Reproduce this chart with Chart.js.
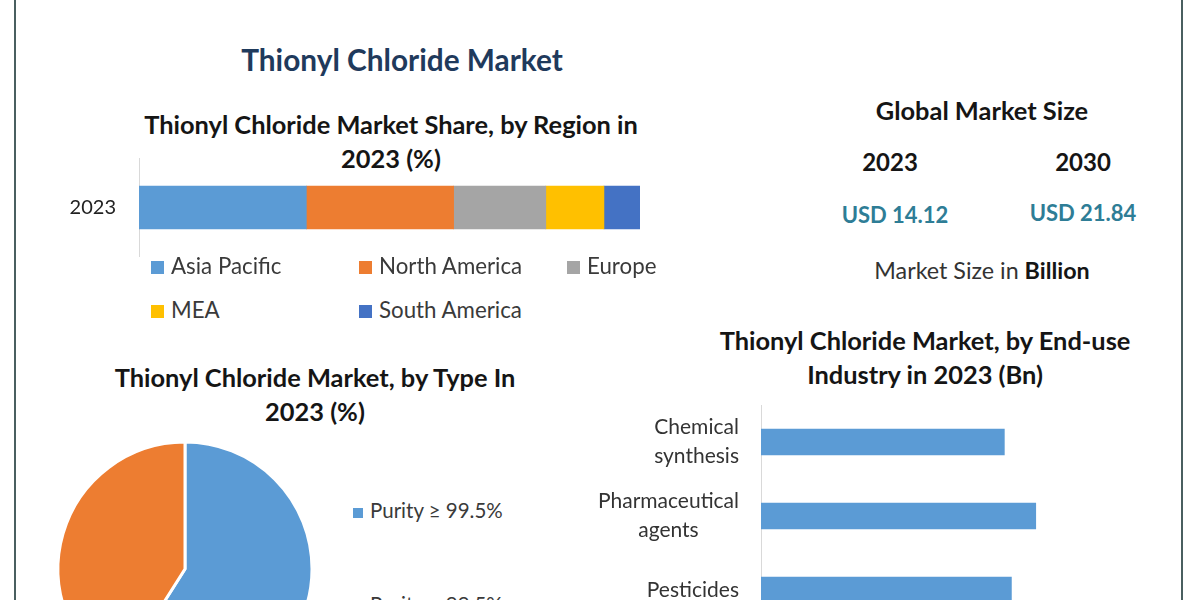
<!DOCTYPE html>
<html>
<head>
<meta charset="utf-8">
<title>Thionyl Chloride Market</title>
<script src="https://cdn.jsdelivr.net/npm/chart.js@4"></script>
<style>
  html, body { margin: 0; height: 100%; background: #fff; overflow: hidden; }
  body { position: relative; width: 1200px; height: 600px; font-family: Lato, sans-serif; color: #222; }
  .frame { position: absolute; top: -3px; left: 14px; width: 1165px; height: 700px; border: 2px solid #4a5f60; }
  .t { position: absolute; white-space: nowrap; text-align: center; transform: translateX(-50%); }
  .h { font-weight: 700; font-size: 25.4px; line-height: 34px; color: #151515; }
  .teal { font-weight: 700; font-size: 22px; color: #2e7d96; }
  .legend { position: absolute; font-size: 22.3px; color: #3a3a3a; white-space: nowrap; }
  .legend i { display: inline-block; margin-right: 7px; }
  canvas { position: absolute; }
</style>
</head>
<body>
<div class="frame"></div>

<div class="t" style="left:402px;top:42px;font-size:29.8px;line-height:36px;font-weight:700;color:#1f3a5c">Thionyl Chloride Market</div>
<div class="t h" style="left:391px;top:107px">Thionyl Chloride Market Share, by Region in<br>2023 (%)</div>
<div class="t h" style="left:315px;top:360px">Thionyl Chloride Market, by Type In<br>2023 (%)</div>
<div class="t h" style="left:925px;top:323px">Thionyl Chloride Market, by End-use<br>Industry in 2023 (Bn)</div>

<div class="t h" style="left:982px;top:93px">Global Market Size</div>
<div class="t h" style="left:890px;top:145px;font-size:24px">2023</div>
<div class="t h" style="left:1083px;top:145px;font-size:24px">2030</div>
<div class="t teal" style="left:895px;top:201px">USD 14.12</div>
<div class="t teal" style="left:1083px;top:199px">USD 21.84</div>
<div class="t" style="left:982px;top:256px;font-size:23.3px;color:#333">Market Size in <b style="color:#151515">Billion</b></div>

<canvas id="regionChart" style="left:40px;top:158px" width="600" height="99"></canvas>
<div id="regionLegend"></div>
<canvas id="typeChart" style="left:40px;top:424px" width="290" height="290"></canvas>
<div id="typeLegend"></div>
<canvas id="useChart" style="left:580px;top:405px" width="495" height="222"></canvas>

<script>
const regions = ['Asia Pacific', 'North America', 'Europe', 'MEA', 'South America'];
const regionShare = [33.4, 29.4, 18.4, 11.6, 7.2];
const regionColors = ['#5b9bd5', '#ed7d31', '#a5a5a5', '#ffc000', '#4472c4'];

const types = ['Purity ≥ 99.5%', 'Purity < 99.5%'];
const typeShare = [59, 41];
const typeColors = ['#5b9bd5', '#ed7d31'];

const uses = [['Chemical', 'synthesis'], ['Pharmaceutical', 'agents'], ['Pesticides']];
const useValues = [3.1, 3.5, 3.19];

Chart.defaults.font.family = 'Lato, sans-serif';
Chart.defaults.animation = false;
Chart.defaults.responsive = false;

// Stacked region bar
new Chart(document.getElementById('regionChart'), {
  type: 'bar',
  data: {
    labels: ['2023'],
    datasets: regions.map((r, i) => ({ label: r, data: [regionShare[i]], backgroundColor: regionColors[i], barThickness: 43 }))
  },
  options: {
    indexAxis: 'y',
    layout: { padding: { left: 99 } },
    plugins: { legend: { display: false }, tooltip: { enabled: false } },
    scales: {
      x: { stacked: true, display: false, min: 0, max: 100 },
      y: {
        stacked: true,
        afterFit(s) { s.width = 0; },
        grid: { display: false },
        border: { color: '#d9d9d9' },
        ticks: { display: false }
      }
    }
  },
  plugins: [{
    id: 'yearLabel',
    afterDraw(chart) {
      const c = chart.ctx, y = chart.scales.y;
      c.save();
      c.font = '20px Lato, sans-serif';
      c.fillStyle = '#222';
      c.textAlign = 'right';
      c.textBaseline = 'middle';
      c.fillText(chart.data.labels[0], y.left - 23, y.getPixelForTick(0));
      c.restore();
    }
  }]
});

// Type pie, runs off the bottom of the page like the source image
new Chart(document.getElementById('typeChart'), {
  type: 'pie',
  data: {
    labels: types,
    datasets: [{ data: typeShare, backgroundColor: typeColors, borderColor: '#fff', borderWidth: 3 }]
  },
  options: {
    layout: { padding: 16.5 },
    plugins: { legend: { display: false }, tooltip: { enabled: false } }
  }
});

// End-use bars; lines of each label are centred on the widest line, right-aligned as a block
new Chart(document.getElementById('useChart'), {
  type: 'bar',
  data: {
    labels: uses,
    datasets: [{ data: useValues, backgroundColor: '#5b9bd5', barThickness: 26 }]
  },
  options: {
    indexAxis: 'y',
    layout: { padding: { left: 181 } },
    plugins: { legend: { display: false }, tooltip: { enabled: false } },
    scales: {
      x: { display: false, min: 0, max: 4 },
      y: {
        afterFit(s) { s.width = 0; },
        grid: { display: false },
        border: { color: '#d9d9d9' },
        ticks: { display: false }
      }
    }
  },
  plugins: [{
    id: 'blockLabels',
    afterDraw(chart) {
      const c = chart.ctx, y = chart.scales.y;
      c.save();
      c.font = '21px Lato, sans-serif';
      c.fillStyle = '#333';
      c.textAlign = 'center';
      c.textBaseline = 'middle';
      chart.data.labels.forEach((lines, i) => {
        const w = Math.max(...lines.map(l => c.measureText(l).width));
        const cy = y.getPixelForTick(i);
        lines.forEach((l, j) => {
          c.fillText(l, y.left - 22 - w / 2, cy + (j - (lines.length - 1) / 2) * 29);
        });
      });
      c.restore();
    }
  }]
});

// Legends are built from the same arrays
function legend(hostId, names, colors, spots, fontSize, box) {
  const host = document.getElementById(hostId);
  names.forEach((n, i) => {
    const d = document.createElement('div');
    d.className = 'legend';
    d.style.left = spots[i][0] + 'px';
    d.style.top = spots[i][1] + 'px';
    d.style.fontSize = fontSize;
    const m = document.createElement('i');
    m.style.background = colors[i];
    m.style.width = m.style.height = box + 'px';
    d.appendChild(m);
    d.appendChild(document.createTextNode(n));
    host.appendChild(d);
  });
}
legend('regionLegend', regions, regionColors, [[151, 252], [359, 252], [567, 252], [151, 296], [359, 296]], '22.3px', 13);
legend('typeLegend', types, typeColors, [[353, 498], [353, 592]], '20.5px', 10);
</script>
</body>
</html>
